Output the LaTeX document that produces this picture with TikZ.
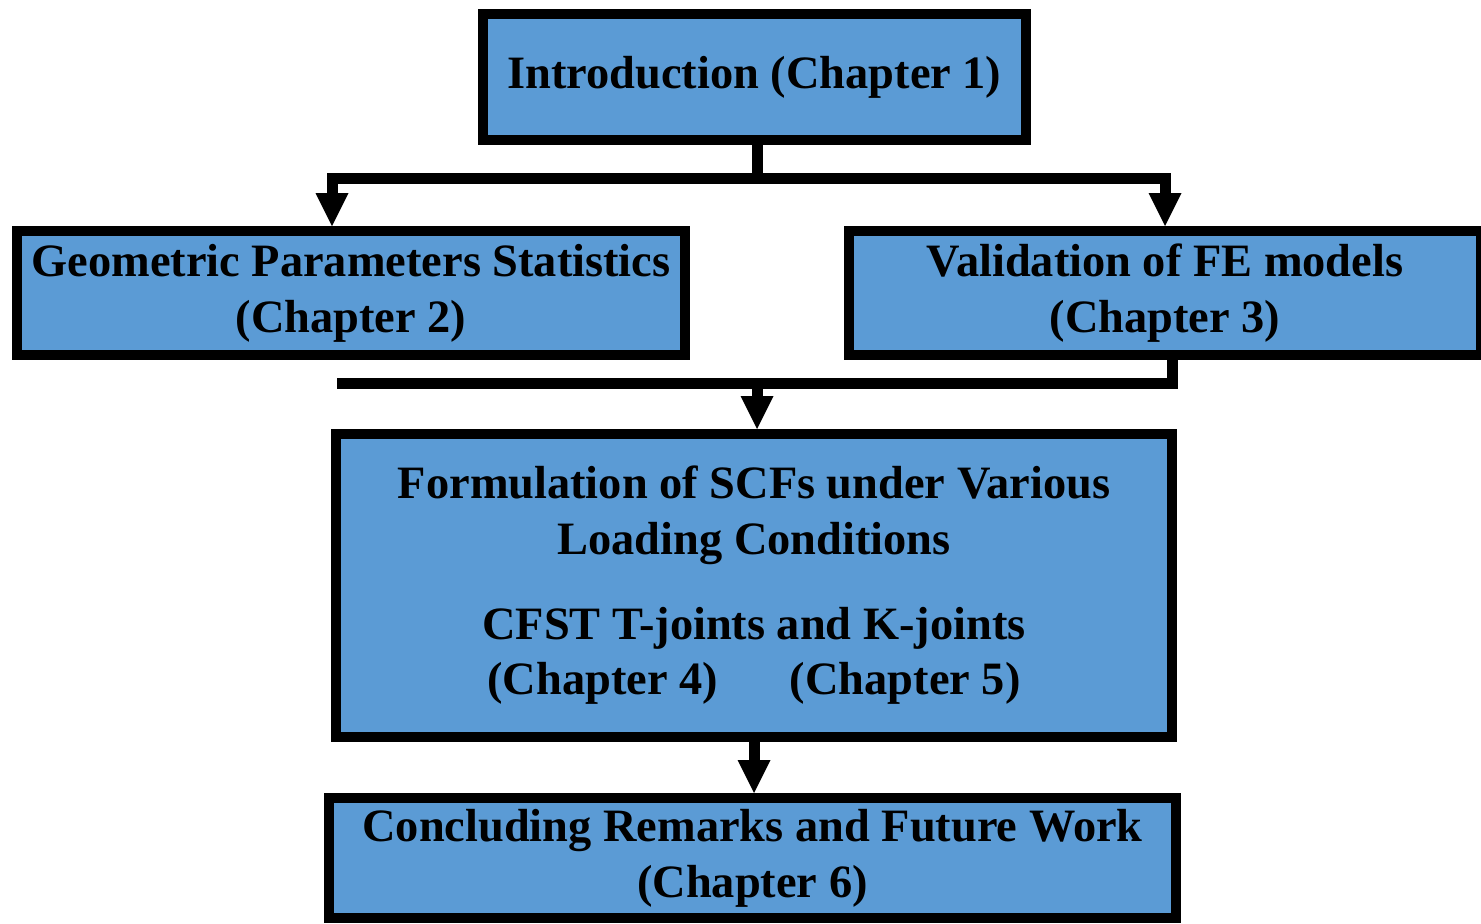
\documentclass[tikz,border=0pt]{standalone}
\usepackage{fontspec}
\setmainfont{Liberation Serif}
\usepackage{xcolor}
\usepackage{tikz}
\usetikzlibrary{positioning, arrows.meta, calc}

\definecolor{boxblue}{RGB}{91,155,213}

\begin{document}
\begin{tikzpicture}[
    chapbox/.style={draw=black, fill=boxblue, line width=0.2cm, inner sep=0pt, align=center,
        font=\bfseries\fontsize{26.4}{31.7}\selectfont},
    bar/.style={line width=0.22cm},
    flow/.style={line width=0.22cm, -{Triangle[width=0.66cm,length=0.66cm,line width=0pt]}}
]
    \useasboundingbox (0,0) rectangle (29.62,-18.46);
    \node[chapbox, minimum width=10.86cm, minimum height=2.52cm](node1_1) at (15.09,-1.54) {Introduction (Chapter 1)};
    \node[chapbox, minimum width=13.36cm, minimum height=2.48cm](node2_1) at (7.02,-5.86) {Geometric Parameters Statistics\\(Chapter 2)};
    \node[chapbox, minimum width=12.64cm, minimum height=2.48cm](node2_2) at (23.30,-5.86) {Validation of FE models\\(Chapter 3)};
    \node[chapbox, minimum width=16.72cm, minimum height=6.06cm](node3_1) at (15.08,-11.71) {Formulation of SCFs under Various\\Loading Conditions\\[0.58cm]CFST T-joints and K-joints\\(Chapter 4)\hspace{1.44cm}(Chapter 5)};
    \node[chapbox, minimum width=16.94cm, minimum height=2.40cm](node4_1) at (15.05,-17.16) {Concluding Remarks and Future Work\\(Chapter 6)};
    % split below the introduction
    \coordinate (split1) at (15.14,-3.56);
    \draw[bar] (node1_1.south -| split1) -- (split1);
    \draw[flow] (split1) -| ([xshift=-0.38cm]node2_1.north);
    \draw[flow] (split1) -| (node2_2.north);
    % merge into the formulation box
    \coordinate (merge1) at (6.74,-7.66);
    \coordinate (merge2) at (15.14,-7.66);
    \draw[bar] ([xshift=0.14cm]node2_2.south) |- (merge1);
    \draw[flow] (merge2) -- (merge2 |- node3_1.north);
    \draw[flow] (node3_1.south) -- (node3_1.south |- node4_1.north);
\end{tikzpicture}
\end{document}
